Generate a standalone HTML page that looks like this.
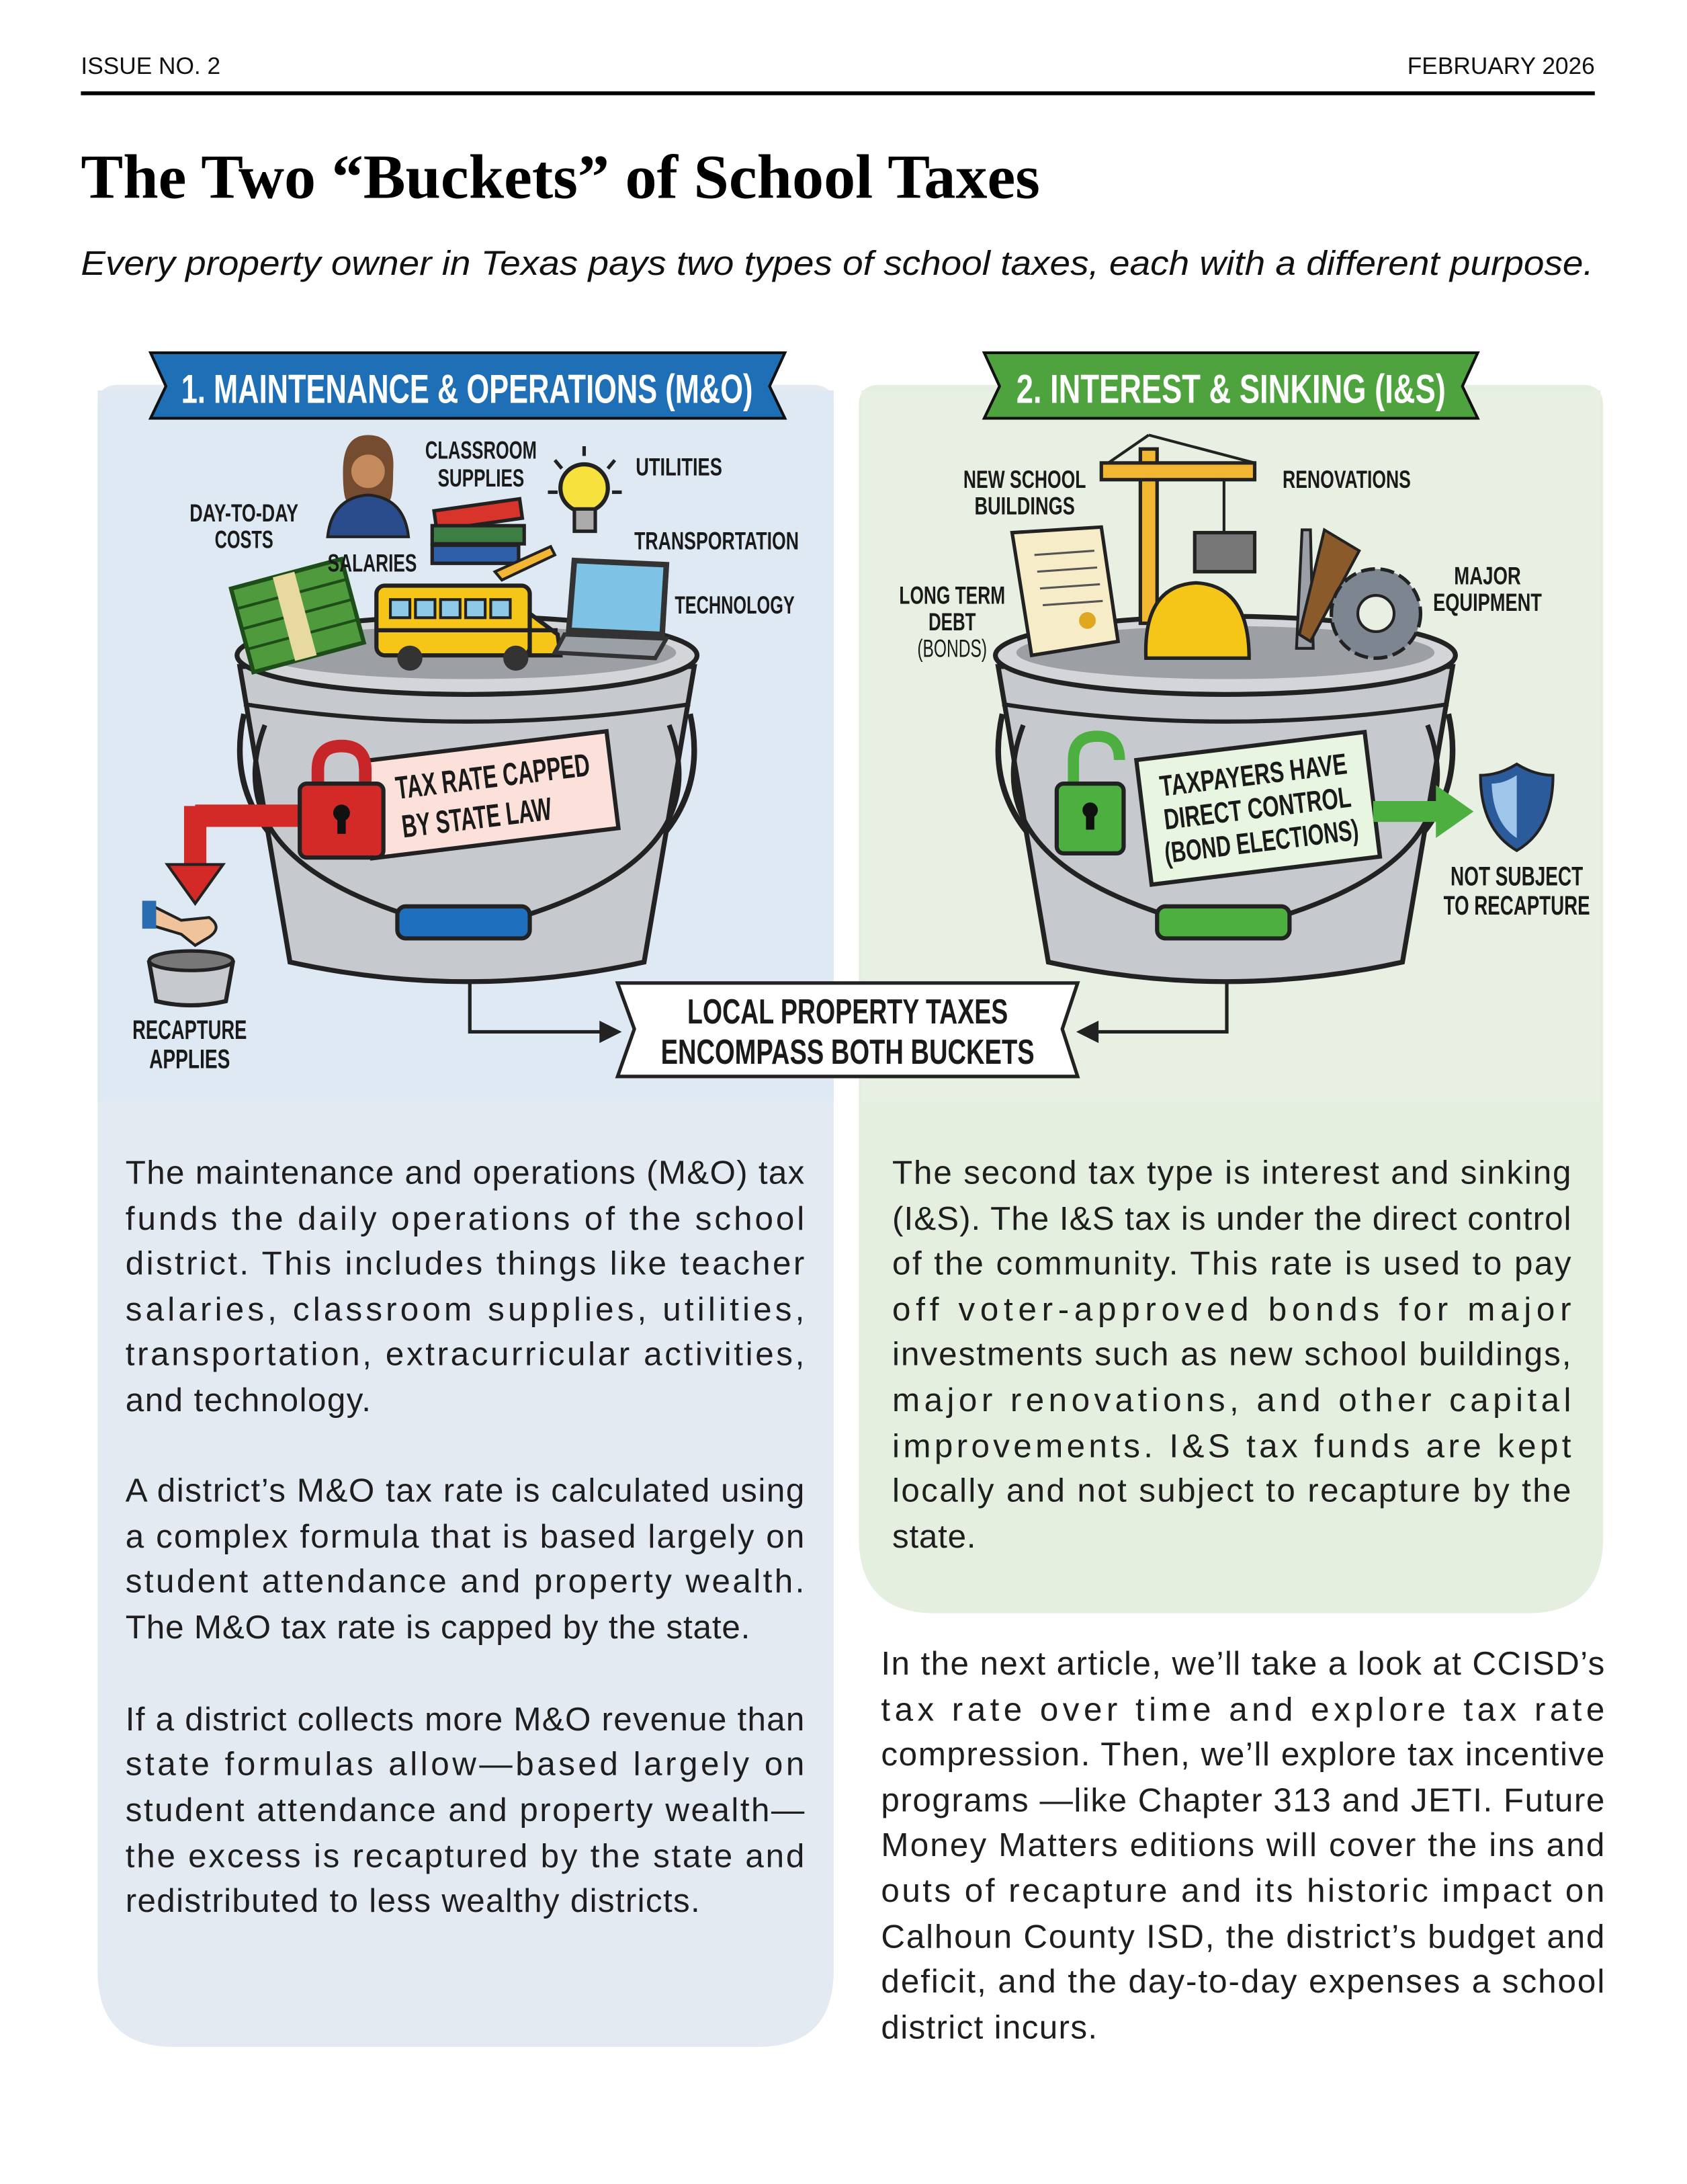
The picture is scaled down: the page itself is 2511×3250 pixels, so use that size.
<!DOCTYPE html>
<html><head><meta charset="utf-8"><style>
html,body{margin:0;padding:0;background:#fff}
svg{display:block}
.b{font-family:"Liberation Sans",sans-serif;font-size:23.8px;fill:#1e1e1e}
.c{font-family:"Liberation Sans",sans-serif;font-weight:bold;fill:#1a1a1a}
</style></head><body>
<svg width="2511" height="3250" viewBox="0 0 1210.1 1566.3" xmlns="http://www.w3.org/2000/svg">
<rect width="1210.1" height="1566.3" fill="#fff"/>
<!-- header -->
<text x="58" y="53" font-family="Liberation Sans,sans-serif" font-size="17" fill="#111">ISSUE NO. 2</text>
<text x="1144" y="53" text-anchor="end" font-family="Liberation Sans,sans-serif" font-size="17" fill="#111">FEBRUARY 2026</text>
<rect x="58" y="65.5" width="1086" height="2.8" fill="#000"/>
<text x="58" y="142" font-family="Liberation Serif,serif" font-weight="bold" font-size="45" fill="#000" textLength="688" lengthAdjust="spacingAndGlyphs">The Two “Buckets” of School Taxes</text>
<text x="58" y="197" font-family="Liberation Sans,sans-serif" font-style="italic" font-size="24.5" fill="#111" textLength="1085" lengthAdjust="spacingAndGlyphs">Every property owner in Texas pays two types of school taxes, each with a different purpose.</text>

<!-- panels -->
<path d="M85,276 H583 Q598,276 598,291 V1413 Q598,1468 543,1468 H125 Q70,1468 70,1413 V291 Q70,276 85,276 Z" fill="#e3eaf1"/>
<path d="M631,276 H1135 Q1150,276 1150,291 V1102 Q1150,1157 1095,1157 H671 Q616,1157 616,1102 V291 Q616,276 631,276 Z" fill="#e5efe0"/>
<rect x="70" y="280" width="528" height="510" fill="#dfe9f3"/>
<rect x="618" y="280" width="530" height="510" fill="#e7f0e2"/>

<!-- banners -->
<polygon points="108,253 563,253 552,277 563,300 108,300 119,277" fill="#1e6fb5" stroke="#111" stroke-width="2"/>
<text x="335" y="289" text-anchor="middle" class="c" font-size="29" style="fill:#fff" textLength="410" lengthAdjust="spacingAndGlyphs">1. MAINTENANCE &amp; OPERATIONS (M&amp;O)</text>
<polygon points="706,253 1060,253 1049,277 1060,300 706,300 717,277" fill="#4ea33f" stroke="#111" stroke-width="2"/>
<text x="883" y="289" text-anchor="middle" class="c" font-size="29" style="fill:#fff" textLength="308" lengthAdjust="spacingAndGlyphs">2. INTEREST &amp; SINKING (I&amp;S)</text>

<!-- LEFT BUCKET -->
<path d="M175,512 Q150,625 335,668 Q520,625 495,512" fill="none" stroke="#222" stroke-width="4"/>
<path d="M172,478 L498,478 L462,690 Q335,718 208,690 Z" fill="#c6c9cd" stroke="#222" stroke-width="3.5"/>
<path d="M175,505 Q335,530 495,505" fill="none" stroke="#222" stroke-width="3"/>
<path d="M190,520 Q150,625 335,668 Q520,625 480,520" fill="none" stroke="#222" stroke-width="3.5"/>
<ellipse cx="335" cy="470" rx="165" ry="28" fill="#d3d5d8" stroke="#222" stroke-width="3.5"/>
<ellipse cx="335" cy="468" rx="150" ry="19" fill="#9c9fa3"/>
<rect x="285" y="650" width="95" height="23" rx="6" fill="#1f6fbf" stroke="#222" stroke-width="3"/>
<!-- items left -->
<g transform="rotate(-15 215 440)"><rect x="172" y="410" width="82" height="62" fill="#4f9a3d" stroke="#1d4d18" stroke-width="3"/><line x1="172" y1="425" x2="254" y2="425" stroke="#1d4d18" stroke-width="2"/><line x1="172" y1="440" x2="254" y2="440" stroke="#1d4d18" stroke-width="2"/><line x1="172" y1="455" x2="254" y2="455" stroke="#1d4d18" stroke-width="2"/><rect x="203" y="410" width="16" height="62" fill="#e8d9a0"/></g>
<rect x="270" y="420" width="110" height="50" rx="6" fill="#f5c518" stroke="#222" stroke-width="3"/>
<path d="M380,440 L400,455 L402,470 L380,470Z" fill="#f5c518" stroke="#222" stroke-width="3"/>
<rect x="280" y="430" width="14" height="13" fill="#8ec9e8" stroke="#222" stroke-width="2"/><rect x="298" y="430" width="14" height="13" fill="#8ec9e8" stroke="#222" stroke-width="2"/><rect x="316" y="430" width="14" height="13" fill="#8ec9e8" stroke="#222" stroke-width="2"/><rect x="334" y="430" width="14" height="13" fill="#8ec9e8" stroke="#222" stroke-width="2"/><rect x="352" y="430" width="14" height="13" fill="#8ec9e8" stroke="#222" stroke-width="2"/>
<line x1="270" y1="452" x2="400" y2="452" stroke="#222" stroke-width="3"/>
<circle cx="294" cy="472" r="9" fill="#333"/><circle cx="370" cy="472" r="9" fill="#333"/>
<path d="M412,402 L478,405 L475,455 L408,452 Z" fill="#7ec3e6" stroke="#333" stroke-width="4"/>
<path d="M405,455 L478,458 L470,472 L398,468 Z" fill="#9aa0a6" stroke="#333" stroke-width="3"/>
<rect x="312" y="362" width="62" height="14" fill="#d9342b" stroke="#222" stroke-width="2.5" transform="rotate(-8 343 369)"/>
<rect x="310" y="377" width="66" height="13" fill="#3c7e43" stroke="#222" stroke-width="2.5"/>
<rect x="310" y="391" width="62" height="13" fill="#2f5fa8" stroke="#222" stroke-width="2.5"/>
<path d="M355,410 L395,392 L398,398 L360,416Z" fill="#f2b632" stroke="#222" stroke-width="2"/>
<circle cx="419" cy="350" r="17" fill="#f7e13c" stroke="#222" stroke-width="3"/>
<rect x="412" y="365" width="15" height="16" fill="#aaa" stroke="#222" stroke-width="2.5"/>
<g stroke="#222" stroke-width="2.5"><line x1="398" y1="330" x2="403" y2="336"/><line x1="419" y1="320" x2="419" y2="327"/><line x1="441" y1="330" x2="436" y2="336"/><line x1="393" y1="353" x2="400" y2="353"/><line x1="446" y1="353" x2="439" y2="353"/></g>
<path d="M246,338 Q246,312 264,312 Q284,312 282,338 Q282,360 278,360 L250,360 Q246,360 246,338Z" fill="#6a3b1c" opacity="0.9"/>
<circle cx="264" cy="338" r="12" fill="#c48a5c"/>
<path d="M235,385 Q238,357 264,355 Q290,357 293,385 Z" fill="#2b4c8c" stroke="#222" stroke-width="2"/>
<!-- lock & label -->
<g transform="rotate(-7 351 570)"><rect x="262" y="535" width="178" height="70" fill="#fbe1da" stroke="#222" stroke-width="3"/>
<text x="355" y="565" text-anchor="middle" class="c" font-size="23" textLength="140" lengthAdjust="spacingAndGlyphs">TAX RATE CAPPED</text>
<text x="340" y="593" text-anchor="middle" class="c" font-size="23" textLength="108" lengthAdjust="spacingAndGlyphs">BY STATE LAW</text></g>
<path d="M140,585 H225" stroke="#d42a27" stroke-width="16" fill="none"/>
<path d="M140,578 V625" stroke="#d42a27" stroke-width="16" fill="none"/>
<polygon points="120,620 160,620 140,648" fill="#d42a27" stroke="#222" stroke-width="2"/>
<path d="M228,565 V552 Q228,535 245,535 Q262,535 262,552 V565" fill="none" stroke="#c6262a" stroke-width="9"/>
<rect x="215" y="562" width="60" height="53" rx="5" fill="#d42a27" stroke="#222" stroke-width="3"/>
<circle cx="245" cy="583" r="6" fill="#111"/><rect x="242" y="584" width="6" height="14" fill="#111"/>
<!-- recapture -->
<path d="M107,690 Q137,680 167,690 L162,718 Q137,724 112,718 Z" fill="#c6c9cd" stroke="#222" stroke-width="3"/>
<ellipse cx="137" cy="689" rx="30" ry="7" fill="#777" stroke="#222" stroke-width="2.5"/>
<path d="M110,650 L130,660 L150,658 Q160,665 150,672 L140,678 L130,670 L110,664Z" fill="#f0c39a" stroke="#222" stroke-width="2"/>
<rect x="102" y="646" width="10" height="20" fill="#2b6cb0"/>
<text x="136" y="745" text-anchor="middle" class="c" font-size="19" textLength="82" lengthAdjust="spacingAndGlyphs">RECAPTURE</text>
<text x="136" y="766" text-anchor="middle" class="c" font-size="19" textLength="58" lengthAdjust="spacingAndGlyphs">APPLIES</text>
<!-- left labels -->
<g class="c" font-size="18">
<text x="345" y="329" text-anchor="middle" textLength="80" lengthAdjust="spacingAndGlyphs">CLASSROOM</text>
<text x="345" y="349" text-anchor="middle" textLength="62" lengthAdjust="spacingAndGlyphs">SUPPLIES</text>
<text x="487" y="341" text-anchor="middle" textLength="62" lengthAdjust="spacingAndGlyphs">UTILITIES</text>
<text x="175" y="374" text-anchor="middle" textLength="78" lengthAdjust="spacingAndGlyphs">DAY-TO-DAY</text>
<text x="175" y="393" text-anchor="middle" textLength="42" lengthAdjust="spacingAndGlyphs">COSTS</text>
<text x="267" y="410" text-anchor="middle" textLength="64" lengthAdjust="spacingAndGlyphs">SALARIES</text>
<text x="514" y="394" text-anchor="middle" textLength="118" lengthAdjust="spacingAndGlyphs">TRANSPORTATION</text>
<text x="527" y="440" text-anchor="middle" textLength="86" lengthAdjust="spacingAndGlyphs">TECHNOLOGY</text>
</g>

<!-- RIGHT BUCKET -->
<path d="M719,512 Q694,625 879,668 Q1064,625 1039,512" fill="none" stroke="#222" stroke-width="4"/>
<path d="M716,478 L1042,478 L1006,690 Q879,718 752,690 Z" fill="#c6c9cd" stroke="#222" stroke-width="3.5"/>
<path d="M719,505 Q879,530 1039,505" fill="none" stroke="#222" stroke-width="3"/>
<path d="M734,520 Q694,625 879,668 Q1064,625 1024,520" fill="none" stroke="#222" stroke-width="3.5"/>
<ellipse cx="879" cy="470" rx="165" ry="28" fill="#d3d5d8" stroke="#222" stroke-width="3.5"/>
<ellipse cx="879" cy="468" rx="150" ry="19" fill="#9c9fa3"/>
<rect x="830" y="650" width="95" height="23" rx="6" fill="#4caf3f" stroke="#222" stroke-width="3"/>
<!-- items right -->
<rect x="818" y="322" width="12" height="125" fill="#f2b632" stroke="#222" stroke-width="2.5"/>
<rect x="790" y="332" width="110" height="12" fill="#f2b632" stroke="#222" stroke-width="2.5"/>
<path d="M824,312 L795,332 M824,312 L900,332" stroke="#222" stroke-width="2" fill="none"/>
<line x1="878" y1="344" x2="878" y2="382" stroke="#222" stroke-width="2"/>
<rect x="857" y="382" width="43" height="28" fill="#777" stroke="#222" stroke-width="2.5"/>
<path d="M726,382 L790,378 L802,460 L740,470 Z" fill="#f6ecc8" stroke="#222" stroke-width="2.5"/>
<g stroke="#555" stroke-width="1.5"><line x1="742" y1="398" x2="785" y2="395"/><line x1="744" y1="410" x2="787" y2="407"/><line x1="746" y1="422" x2="789" y2="419"/><line x1="748" y1="434" x2="791" y2="431"/></g>
<circle cx="780" cy="445" r="6" fill="#e0a820"/>
<path d="M822,472 Q820,420 858,418 Q896,420 896,472 Z" fill="#f5c518" stroke="#222" stroke-width="2.5"/>
<path d="M934,380 L940,380 L942,465 L930,465Z" fill="#9aa0a6" stroke="#222" stroke-width="2"/>
<path d="M950,380 L975,395 L940,460 L932,455 Z" fill="#8a5a2b" stroke="#222" stroke-width="2"/>
<circle cx="987" cy="440" r="32" fill="#7c8590" stroke="#222" stroke-width="2.5" stroke-dasharray="10 4"/>
<circle cx="987" cy="440" r="13" fill="#e7f0e2" stroke="#222" stroke-width="2"/>
<!-- green lock & label -->
<g transform="rotate(-7 900 580)"><rect x="820" y="535" width="165" height="90" fill="#e8f5e0" stroke="#222" stroke-width="3"/>
<text x="902" y="563" text-anchor="middle" class="c" font-size="21" textLength="135" lengthAdjust="spacingAndGlyphs">TAXPAYERS HAVE</text>
<text x="902" y="587" text-anchor="middle" class="c" font-size="21" textLength="135" lengthAdjust="spacingAndGlyphs">DIRECT CONTROL</text>
<text x="902" y="611" text-anchor="middle" class="c" font-size="21" textLength="140" lengthAdjust="spacingAndGlyphs">(BOND ELECTIONS)</text></g>
<path d="M770,565 V545 Q770,528 787,528 Q803,528 803,545" fill="none" stroke="#4caf3f" stroke-width="8"/>
<rect x="758" y="562" width="48" height="50" rx="5" fill="#4caf3f" stroke="#222" stroke-width="3"/>
<circle cx="782" cy="581" r="5.5" fill="#111"/><rect x="779" y="582" width="6" height="13" fill="#111"/>
<path d="M985,582 H1035" stroke="#4caf3f" stroke-width="15" fill="none"/>
<polygon points="1030,563 1057,582 1030,601" fill="#4caf3f"/>
<path d="M1088,548 Q1075,556 1062,556 Q1062,595 1088,610 Q1114,595 1114,556 Q1101,556 1088,548 Z" fill="#2c5b9c" stroke="#222" stroke-width="2"/>
<path d="M1088,556 Q1079,562 1070,562 Q1071,590 1088,601Z" fill="#9fc6ea"/>
<text x="1088" y="635" text-anchor="middle" class="c" font-size="19" textLength="95" lengthAdjust="spacingAndGlyphs">NOT SUBJECT</text>
<text x="1088" y="656" text-anchor="middle" class="c" font-size="19" textLength="105" lengthAdjust="spacingAndGlyphs">TO RECAPTURE</text>
<g class="c" font-size="18">
<text x="735" y="350" text-anchor="middle" textLength="88" lengthAdjust="spacingAndGlyphs">NEW SCHOOL</text>
<text x="735" y="369" text-anchor="middle" textLength="72" lengthAdjust="spacingAndGlyphs">BUILDINGS</text>
<text x="966" y="350" text-anchor="middle" textLength="92" lengthAdjust="spacingAndGlyphs">RENOVATIONS</text>
<text x="683" y="433" text-anchor="middle" textLength="76" lengthAdjust="spacingAndGlyphs">LONG TERM</text>
<text x="683" y="452" text-anchor="middle" textLength="34" lengthAdjust="spacingAndGlyphs">DEBT</text>
<text x="683" y="471" text-anchor="middle" font-weight="normal" textLength="50" lengthAdjust="spacingAndGlyphs">(BONDS)</text>
<text x="1067" y="419" text-anchor="middle" textLength="48" lengthAdjust="spacingAndGlyphs">MAJOR</text>
<text x="1067" y="438" text-anchor="middle" textLength="78" lengthAdjust="spacingAndGlyphs">EQUIPMENT</text>
</g>

<!-- center label & connectors -->
<path d="M337,705 V740 H433" fill="none" stroke="#222" stroke-width="2.5"/>
<polygon points="430,732 446,740 430,748" fill="#222"/>
<path d="M880,705 V740 H785" fill="none" stroke="#222" stroke-width="2.5"/>
<polygon points="788,732 772,740 788,748" fill="#222"/>
<polygon points="443,705 773,705 762,738 773,772 443,772 455,738" fill="#fff" stroke="#222" stroke-width="2.5"/>
<text x="608" y="734" text-anchor="middle" class="c" font-size="25" textLength="230" lengthAdjust="spacingAndGlyphs">LOCAL PROPERTY TAXES</text>
<text x="608" y="763" text-anchor="middle" class="c" font-size="25" textLength="268" lengthAdjust="spacingAndGlyphs">ENCOMPASS BOTH BUCKETS</text>

<!-- body text left -->
<g class="b">
<text x="90" y="849" textLength="487" lengthAdjust="spacing">The maintenance and operations (M&amp;O) tax</text>
<text x="90" y="882" textLength="487" lengthAdjust="spacing">funds the daily operations of the school</text>
<text x="90" y="914" textLength="487" lengthAdjust="spacing">district. This includes things like teacher</text>
<text x="90" y="947" textLength="487" lengthAdjust="spacing">salaries, classroom supplies, utilities,</text>
<text x="90" y="979" textLength="487" lengthAdjust="spacing">transportation, extracurricular activities,</text>
<text x="90" y="1012" textLength="176" lengthAdjust="spacing">and technology.</text>
<text x="90" y="1077" textLength="487" lengthAdjust="spacing">A district’s M&amp;O tax rate is calculated using</text>
<text x="90" y="1110" textLength="487" lengthAdjust="spacing">a complex formula that is based largely on</text>
<text x="90" y="1142" textLength="487" lengthAdjust="spacing">student attendance and property wealth.</text>
<text x="90" y="1175" textLength="448" lengthAdjust="spacing">The M&amp;O tax rate is capped by the state.</text>
<text x="90" y="1241" textLength="487" lengthAdjust="spacing">If a district collects more M&amp;O revenue than</text>
<text x="90" y="1273" textLength="487" lengthAdjust="spacing">state formulas allow—based largely on</text>
<text x="90" y="1306" textLength="487" lengthAdjust="spacing">student attendance and property wealth—</text>
<text x="90" y="1339" textLength="487" lengthAdjust="spacing">the excess is recaptured by the state and</text>
<text x="90" y="1371" textLength="412" lengthAdjust="spacing">redistributed to less wealthy districts.</text>
<!-- right -->
<text x="640" y="849" textLength="487" lengthAdjust="spacing">The second tax type is interest and sinking</text>
<text x="640" y="882" textLength="487" lengthAdjust="spacing">(I&amp;S). The I&amp;S tax is under the direct control</text>
<text x="640" y="914" textLength="487" lengthAdjust="spacing">of the community. This rate is used to pay</text>
<text x="640" y="947" textLength="487" lengthAdjust="spacing">off voter-approved bonds for major</text>
<text x="640" y="979" textLength="487" lengthAdjust="spacing">investments such as new school buildings,</text>
<text x="640" y="1012" textLength="487" lengthAdjust="spacing">major renovations, and other capital</text>
<text x="640" y="1045" textLength="487" lengthAdjust="spacing">improvements. I&amp;S tax funds are kept</text>
<text x="640" y="1077" textLength="487" lengthAdjust="spacing">locally and not subject to recapture by the</text>
<text x="640" y="1110" textLength="60" lengthAdjust="spacing">state.</text>
<!-- bottom right -->
<text x="632" y="1201" textLength="519" lengthAdjust="spacing">In the next article, we’ll take a look at CCISD’s</text>
<text x="632" y="1234" textLength="519" lengthAdjust="spacing">tax rate over time and explore tax rate</text>
<text x="632" y="1266" textLength="519" lengthAdjust="spacing">compression. Then, we’ll explore tax incentive</text>
<text x="632" y="1299" textLength="519" lengthAdjust="spacing">programs —like Chapter 313 and JETI. Future</text>
<text x="632" y="1331" textLength="519" lengthAdjust="spacing">Money Matters editions will cover the ins and</text>
<text x="632" y="1364" textLength="519" lengthAdjust="spacing">outs of recapture and its historic impact on</text>
<text x="632" y="1397" textLength="519" lengthAdjust="spacing">Calhoun County ISD, the district’s budget and</text>
<text x="632" y="1429" textLength="519" lengthAdjust="spacing">deficit, and the day-to-day expenses a school</text>
<text x="632" y="1462" textLength="155" lengthAdjust="spacing">district incurs.</text>
</g>
</svg>
</body></html>
